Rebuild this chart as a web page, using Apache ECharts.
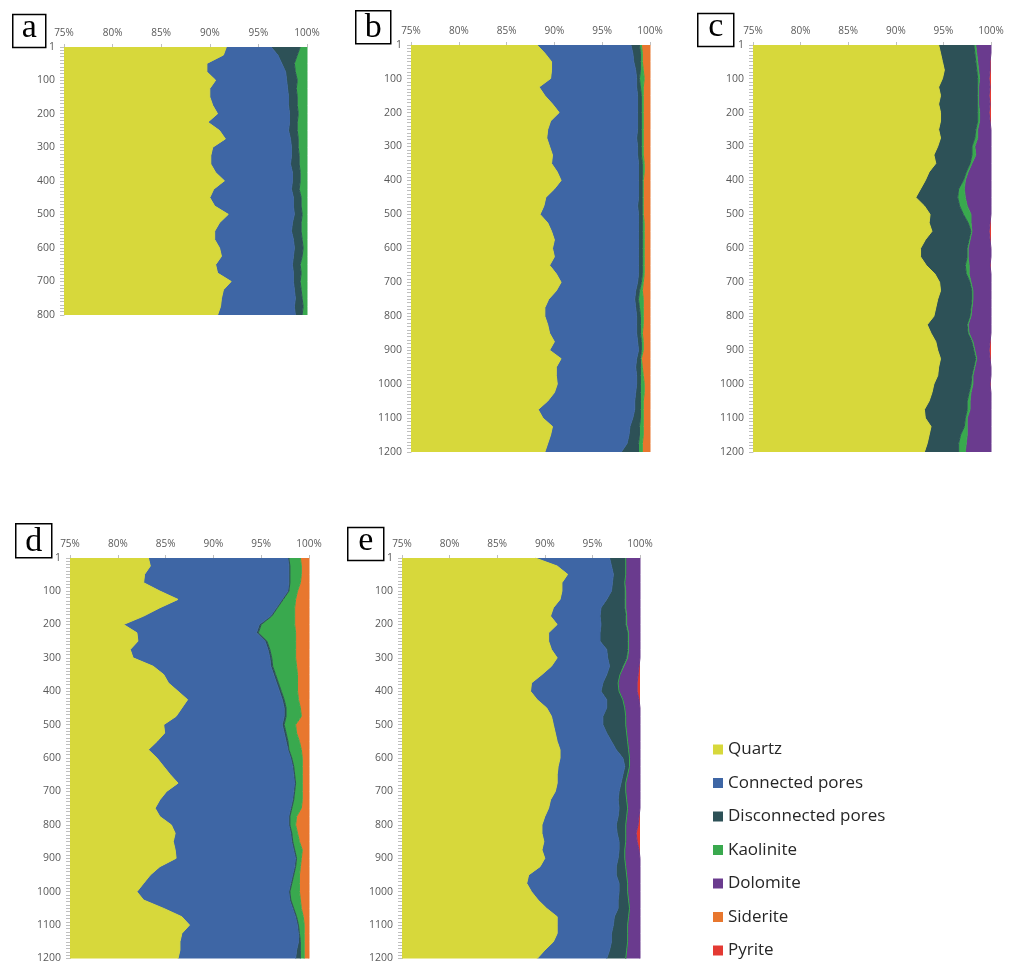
<!DOCTYPE html>
<html>
<head>
<meta charset="utf-8">
<script src="https://cdn.jsdelivr.net/npm/echarts@6/dist/echarts.min.js"></script>
<style>
html,body{margin:0;padding:0;background:#ffffff;}
#main{width:1009px;height:964px;}
</style>
</head>
<body>
<div id="main"></div>
<script>
// ---- sampled slice positions (rows of the vertical category axis) ----
const slices800 = [1,25,50,75,100,125,150,175,200,225,250,275,300,325,350,375,400,425,450,475,500,525,550,575,600,625,650,675,700,725,750,775,800];
const slices1200 = [1,25,50,75,100,125,150,175,200,225,250,275,300,325,350,375,400,425,450,475,500,525,550,575,600,625,650,675,700,725,750,775,800,825,850,875,900,925,950,975,1000,1025,1050,1075,1100,1125,1150,1175,1200];

const phaseNames = ['Quartz','Connected pores','Disconnected pores','Kaolinite','Dolomite','Siderite','Pyrite'];

// ---- panel a (slices 1..800), % of volume ----
const aQuartz = [91.7,91.4,89.7,89.7,90.6,90.0,90.0,90.3,90.8,89.8,91.0,91.6,90.3,90.1,90.1,90.6,91.5,90.4,90.0,90.5,91.9,91.0,90.5,90.5,91.0,91.2,90.6,90.8,92.2,91.4,91.2,91.1,90.8];
const aConnected = [4.6,5.6,7.7,8.1,7.3,8.0,8.1,7.8,7.4,8.4,7.1,6.7,8.1,8.3,8.2,7.9,7.0,8.0,8.6,8.1,6.8,7.5,7.9,8.1,7.7,7.4,7.9,7.8,6.4,7.3,7.6,7.6,8.0];
const aDisconnected = [3.0,2.0,1.3,1.0,1.1,0.9,0.9,0.9,0.9,0.8,0.9,0.8,0.7,0.8,0.9,0.8,0.8,0.8,0.8,0.8,0.8,0.9,1.0,0.9,0.9,0.9,0.8,0.8,0.7,0.7,0.7,0.9,0.7];
const aKaolinite = [0.7,1.0,1.3,1.2,1.0,1.1,1.0,1.0,0.9,1.0,1.0,0.9,0.9,0.8,0.8,0.7,0.7,0.8,0.6,0.6,0.5,0.6,0.6,0.5,0.4,0.5,0.7,0.6,0.7,0.6,0.5,0.4,0.5];

// ---- panel b (slices 1..1200) ----
const bQuartz = [88.2,89.0,89.7,89.7,89.6,88.4,89.0,89.8,90.5,89.6,89.3,89.2,89.5,89.8,89.7,90.3,90.7,90.0,89.1,88.9,88.5,89.3,89.7,90.0,89.8,90.0,89.5,90.2,90.7,90.2,89.4,89.0,89.0,89.3,89.5,90.0,89.5,90.7,90.2,90.2,90.3,90.0,89.3,88.3,88.8,89.8,89.6,89.3,89.0];
const bConnected = [9.8,9.2,8.6,8.8,9.0,10.2,9.7,8.9,8.2,9.1,9.4,9.4,9.2,8.9,9.1,8.5,8.1,8.8,9.7,9.8,10.3,9.5,9.1,8.8,9.0,8.8,9.3,8.6,8.0,8.3,9.0,9.5,9.6,9.3,9.1,8.7,9.3,7.9,8.3,8.4,8.3,8.5,9.1,10.1,9.4,8.1,8.2,8.3,8.0];
const bDisconnected = [0.9,0.8,0.7,0.5,0.3,0.4,0.4,0.4,0.4,0.4,0.4,0.5,0.4,0.4,0.4,0.4,0.4,0.4,0.4,0.5,0.4,0.4,0.4,0.4,0.4,0.4,0.4,0.4,0.4,0.4,0.4,0.4,0.4,0.4,0.4,0.4,0.3,0.4,0.5,0.4,0.4,0.5,0.6,0.6,0.8,1.0,1.1,1.2,1.8];
const bKaolinite = [0.2,0.2,0.2,0.3,0.5,0.3,0.2,0.2,0.2,0.2,0.2,0.2,0.2,0.2,0.2,0.2,0.1,0.1,0.1,0.1,0.1,0.2,0.2,0.2,0.2,0.2,0.2,0.2,0.2,0.3,0.5,0.4,0.3,0.3,0.2,0.2,0.2,0.1,0.2,0.3,0.4,0.4,0.3,0.3,0.3,0.4,0.4,0.4,0.4];
const bSiderite = [0.9,0.8,0.8,0.7,0.6,0.7,0.7,0.7,0.7,0.7,0.7,0.7,0.7,0.7,0.6,0.6,0.7,0.7,0.7,0.7,0.7,0.6,0.6,0.6,0.6,0.6,0.6,0.6,0.7,0.8,0.7,0.7,0.7,0.7,0.8,0.7,0.7,0.9,0.8,0.7,0.6,0.6,0.7,0.7,0.7,0.7,0.7,0.8,0.8];

// ---- panel c ----
const cQuartz = [94.5,94.7,94.9,95.1,94.9,94.5,94.7,94.5,94.7,94.7,94.5,94.7,94.4,94.0,94.2,93.5,93.1,92.6,92.1,93.0,93.6,93.5,93.8,93.1,92.6,92.6,93.2,94.1,94.6,94.7,94.4,94.2,94.0,93.3,93.7,94.2,94.4,94.7,94.5,94.4,94.0,93.8,93.5,93.0,93.1,93.7,93.5,93.3,93.0];
const cDisconnected = [3.7,3.6,3.5,3.4,3.7,4.1,3.9,4.1,3.9,3.9,3.9,3.6,3.6,4.0,3.6,3.9,4.0,4.0,4.4,3.7,3.5,4.1,4.1,4.6,4.9,4.9,4.1,3.3,3.2,3.3,3.6,3.7,3.8,4.2,3.9,3.8,3.8,3.7,3.7,3.6,3.9,3.9,4.0,4.5,4.2,3.5,3.3,3.3,3.6];
const cKaolinite = [0.2,0.2,0.2,0.2,0.2,0.1,0.1,0.1,0.2,0.2,0.2,0.3,0.3,0.4,0.2,0.2,0.2,0.6,0.8,0.8,0.8,0.3,0.1,0.1,0.1,0.1,0.4,0.3,0.1,0.1,0.1,0.1,0.1,0.1,0.1,0.1,0.1,0.1,0.1,0.1,0.2,0.2,0.3,0.3,0.2,0.3,0.7,0.8,0.7];
const cDolomite = [1.6,1.5,1.3,1.2,1.0,1.2,1.1,1.2,1.0,1.1,1.4,1.4,1.7,1.6,2.0,2.4,2.7,2.8,2.7,2.5,2.1,2.0,1.8,2.1,2.4,2.4,2.2,2.3,2.1,1.9,1.9,2.0,2.1,2.4,2.3,1.8,1.5,1.4,1.7,1.9,1.8,2.1,2.2,2.2,2.5,2.5,2.5,2.6,2.7];
const cPyrite = [0,0,0.1,0.1,0.2,0.1,0.2,0.1,0.2,0.1,0,0,0,0,0,0,0,0,0,0,0,0.1,0.2,0.1,0,0,0.1,0,0,0,0,0,0,0,0,0.1,0.2,0.1,0,0,0.1,0,0,0,0,0,0,0,0];

// ---- panel d ----
const dQuartz = [83.2,83.4,82.8,82.7,84.4,86.3,84.4,82.7,80.6,82.0,82.1,81.3,81.6,83.7,84.8,85.3,86.3,87.3,86.7,86.1,84.8,84.9,84.1,83.2,84.1,84.8,85.5,86.3,85.1,84.4,83.9,84.4,85.6,86.0,85.8,86.0,86.1,84.4,83.4,82.7,82.0,82.7,84.8,86.7,87.5,86.7,86.5,86.5,86.3];
const dConnected = [14.6,14.5,15.1,15.2,13.4,10.9,12.2,13.3,14.2,12.5,13.3,14.4,14.3,12.3,11.5,11.3,10.6,9.9,10.7,11.3,12.4,12.5,13.5,14.6,14.0,13.5,12.9,12.2,13.3,13.9,14.2,13.5,12.3,12.1,12.4,12.4,12.5,14.1,14.9,15.4,15.9,15.3,13.5,11.9,11.3,12.2,12.4,12.2,12.3];
const dDisconnected = [0.1,0.1,0.1,0.1,0.1,0.1,0.1,0.1,0.2,0.2,0.2,0.2,0.2,0.2,0.2,0.2,0.2,0.2,0.2,0.2,0.2,0.2,0.2,0.1,0.1,0.1,0.1,0.1,0.1,0.1,0.1,0.1,0.1,0.1,0.1,0.1,0.1,0.1,0.1,0.1,0.1,0.1,0.1,0.1,0.1,0.1,0.2,0.4,0.5];
const dKaolinite = [1.2,1.2,1.2,1.1,0.9,1.3,1.8,2.4,3.5,3.9,3.0,2.7,2.5,2.5,2.3,2.0,1.7,1.5,1.5,1.6,1.2,1.1,1.2,1.3,1.1,0.9,0.8,0.7,0.8,0.9,1.0,0.7,0.6,0.6,0.7,0.8,0.5,0.5,0.6,0.8,1.0,1.0,0.8,0.7,0.6,0.5,0.4,0.4,0.4];
const dSiderite = [0.9,0.8,0.8,0.9,1.2,1.4,1.5,1.5,1.5,1.4,1.4,1.4,1.4,1.3,1.2,1.2,1.2,1.1,0.9,0.8,1.4,1.3,1.0,0.8,0.7,0.7,0.7,0.7,0.7,0.7,0.8,1.3,1.4,1.2,1.0,0.7,0.8,0.9,1.0,1.0,1.0,0.9,0.8,0.6,0.5,0.5,0.5,0.5,0.5];

// ---- panel e ----
const eQuartz = [89.0,91.3,92.4,91.8,91.8,91.6,90.9,90.6,91.3,90.4,90.4,90.7,91.3,90.7,89.7,88.6,88.5,89.2,90.2,90.7,90.9,91.1,91.3,91.6,91.6,91.4,91.3,91.3,91.1,90.6,90.4,90.0,89.7,89.7,89.9,89.7,90.0,89.5,88.3,88.1,88.6,89.3,90.2,91.3,91.3,91.3,90.9,90.0,89.2];
const eConnected = [7.8,5.7,4.8,5.3,5.2,4.9,5.0,5.2,4.6,5.4,5.4,5.8,5.3,6.1,6.8,7.5,7.4,7.3,6.3,5.4,5.2,5.4,5.7,5.9,6.6,7.0,6.9,6.7,6.7,7.1,7.4,7.7,7.8,7.9,7.9,8.1,7.7,8.0,9.2,9.7,9.2,8.4,7.5,6.0,5.9,5.7,6.1,6.8,7.3];
const eDisconnected = [1.7,1.5,1.3,1.3,1.4,1.9,2.5,2.7,2.6,2.9,2.9,2.2,2.0,1.4,1.4,1.6,1.9,1.7,1.9,2.4,2.4,2.1,1.7,1.3,0.7,0.5,0.5,0.5,0.7,0.9,0.9,0.9,1.0,0.9,0.7,0.6,0.7,1.0,1.1,0.9,0.9,1.1,1.2,1.5,1.5,1.7,1.7,1.8,2.0];
const eKaolinite = [0,0,0,0,0.1,0.1,0.1,0.1,0.1,0.1,0.1,0.1,0.1,0.1,0,0,0,0,0,0,0,0,0,0,0,0,0,0,0,0,0,0,0,0,0,0,0,0,0,0,0,0,0,0,0,0,0,0,0];
const eDolomite = [1.5,1.5,1.5,1.6,1.5,1.5,1.5,1.4,1.4,1.2,1.2,1.2,1.3,1.6,1.9,2.0,1.9,1.7,1.6,1.5,1.5,1.4,1.3,1.2,1.1,1.1,1.3,1.5,1.5,1.4,1.3,1.3,1.3,1.1,1.2,1.5,1.6,1.5,1.4,1.3,1.3,1.2,1.1,1.2,1.3,1.3,1.3,1.4,1.5];
const ePyrite = [0,0,0,0,0,0,0,0,0,0,0,0,0,0.1,0.2,0.3,0.3,0.1,0,0,0,0,0,0,0,0,0,0,0,0,0,0.1,0.2,0.4,0.3,0.1,0,0,0,0,0,0,0,0,0,0,0,0,0];

// ---- styling ----
const COLORS = {
  'Quartz':'#d7d83b',
  'Connected pores':'#3e66a5',
  'Disconnected pores':'#2d5157',
  'Kaolinite':'#39a94e',
  'Dolomite':'#6a3b8e',
  'Siderite':'#e8772e',
  'Pyrite':'#e43a33'
};

const panels = [
  {label:'a', box:[12,11,33,33], grid:{left:64, top:47, width:243, height:268}, rows:800, slices:slices800,
   layers:[['Quartz',aQuartz],['Connected pores',aConnected],['Disconnected pores',aDisconnected],['Kaolinite',aKaolinite]]},
  {label:'b', box:[355,10,35,33], grid:{left:411, top:45, width:239, height:407}, rows:1200, slices:slices1200,
   layers:[['Quartz',bQuartz],['Connected pores',bConnected],['Disconnected pores',bDisconnected],['Kaolinite',bKaolinite],['Siderite',bSiderite]]},
  {label:'c', box:[697,10,36,33], grid:{left:753, top:45, width:238, height:407}, rows:1200, slices:slices1200,
   layers:[['Quartz',cQuartz],['Disconnected pores',cDisconnected],['Kaolinite',cKaolinite],['Dolomite',cDolomite],['Pyrite',cPyrite]]},
  {label:'d', box:[15,523,36,34], grid:{left:70, top:558, width:239, height:404}, rows:1200, slices:slices1200,
   layers:[['Quartz',dQuartz],['Connected pores',dConnected],['Disconnected pores',dDisconnected],['Kaolinite',dKaolinite],['Siderite',dSiderite]]},
  {label:'e', box:[347,524,36,33], grid:{left:402, top:558, width:238, height:404}, rows:1200, slices:slices1200,
   layers:[['Quartz',eQuartz],['Connected pores',eConnected],['Disconnected pores',eDisconnected],['Kaolinite',eKaolinite],['Dolomite',eDolomite],['Pyrite',ePyrite]]}
];

const grids = [], xAxes = [], yAxes = [], series = [], graphics = [];
panels.forEach((p, i) => {
  grids.push(Object.assign({containLabel:false}, p.grid));
  xAxes.push({
    type:'value', gridIndex:i, position:'top', min:75, max:100, interval:5,
    axisLine:{show:true, lineStyle:{color:'#d9d9d9', width:1}},
    axisTick:{show:true, length:3, lineStyle:{color:'#bfbfbf'}},
    axisLabel:{formatter:'{value}%', color:'#595959', fontSize:10, fontFamily:'Open Sans', margin:9},
    splitLine:{show:false}
  });
  const cats = Array.from({length:p.rows}, (_, k) => String(k + 1));
  yAxes.push({
    type:'category', gridIndex:i, data:cats, inverse:true, boundaryGap:false,
    axisLine:{show:true, lineStyle:{color:'#bfbfbf', width:1}},
    axisTick:{show:true, length:4, interval:(idx) => idx === 0 || (idx + 1) % 10 === 0, lineStyle:{color:'#bfbfbf'}},
    axisLabel:{interval:(idx) => idx === 0 || (idx + 1) % 100 === 0, color:'#595959', fontSize:10.5, fontFamily:'Open Sans', margin:9},
    splitLine:{show:false}
  });
  p.layers.forEach(([name, vals]) => {
    const col = COLORS[name];
    series.push({
      type:'line', name:name, xAxisIndex:i, yAxisIndex:i, stack:'panel' + p.label,
      data:p.slices.map((s, k) => [vals[k], String(s)]),
      showSymbol:false, symbol:'none', silent:true, animation:false,
      lineStyle:{color:col, width:name === 'Pyrite' ? 0 : 1},
      itemStyle:{color:col},
      areaStyle:{color:col, opacity:1}
    });
  });
  const [bx, by, bw, bh] = p.box;
  const ascender = (p.label === 'b' || p.label === 'd');
  graphics.push({
    type:'group', left:bx, top:by,
    children:[
      {type:'rect', shape:{x:0, y:0, width:bw, height:bh}, style:{fill:'#ffffff', stroke:'#000000', lineWidth:1.5}},
      {type:'text', x:bw / 2, y:ascender ? bh / 2 + 1 : bh / 2 - 3,
       style:{text:p.label, font:'34px "Liberation Serif"', fill:'#000000', align:'center', verticalAlign:'middle'}}
    ]
  });
});

const chart = echarts.init(document.getElementById('main'), null, {renderer:'canvas', width:1009, height:964});
chart.setOption({
  backgroundColor:'#ffffff',
  animation:false,
  grid:grids,
  xAxis:xAxes,
  yAxis:yAxes,
  series:series,
  graphic:graphics,
  legend:{
    orient:'vertical', left:713, top:741, padding:0, itemWidth:10, itemHeight:10, itemGap:16.5,
    icon:'rect', data:phaseNames, selectedMode:false,
    textStyle:{fontSize:17, color:'#262626', fontFamily:'Open Sans'}
  }
});
</script>
</body>
</html>
